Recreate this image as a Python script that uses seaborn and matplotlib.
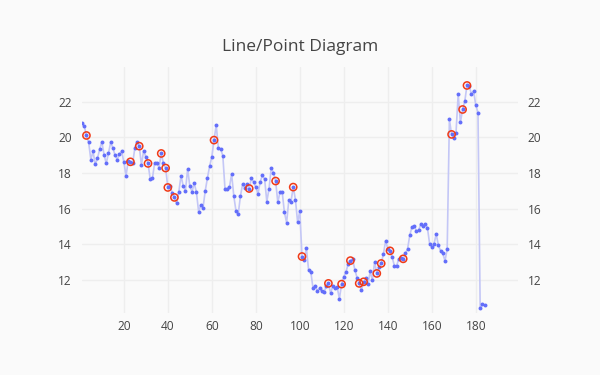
import matplotlib
matplotlib.use("Agg")
import matplotlib.pyplot as plt
import seaborn as sns
import pandas as pd

# values, one per x step starting at 1
values = [
    20.82, 20.64, 20.11, 19.72, 18.76, 19.21, 18.48, 18.82, 19.33, 19.76,
    19.03, 18.54, 19.10, 19.72, 19.42, 19.00, 18.76, 19.06, 19.21, 18.63,
    17.85, 18.68, 18.63, 18.54, 19.40, 19.74, 19.51, 18.45, 19.25, 18.91,
    18.54, 17.66, 17.70, 18.58, 18.58, 18.31, 19.10, 18.54, 18.28, 17.19,
    17.27, 16.89, 16.63, 16.29, 16.95, 17.85, 17.27, 17.00, 18.22, 17.27,
    16.95, 17.42, 16.93, 15.82, 16.20, 16.05, 16.99, 17.72, 18.39, 18.91,
    19.85, 20.69, 19.38, 19.36, 18.97, 17.08, 17.09, 17.21, 17.94, 16.70,
    15.86, 15.69, 16.70, 17.38, 17.17, 17.40, 17.13, 17.72, 17.49, 17.21,
    16.84, 17.51, 17.87, 17.66, 16.40, 17.11, 18.27, 18.03, 17.55, 16.35,
    16.93, 16.93, 15.79, 15.22, 16.47, 16.40, 17.21, 16.51, 15.24, 15.86,
    13.31, 13.12, 13.78, 12.55, 12.45, 11.53, 11.68, 11.37, 11.53, 11.35,
    11.29, 11.65, 11.80, 11.24, 11.67, 11.52, 11.57, 10.95, 11.76, 12.17,
    12.45, 12.90, 13.08, 13.16, 12.58, 12.13, 11.80, 11.42, 11.89, 12.08,
    11.76, 12.47, 11.99, 13.00, 12.36, 12.73, 12.92, 13.45, 14.18, 13.76,
    13.63, 13.26, 12.79, 12.79, 13.18, 13.20, 13.18, 13.48, 13.75, 14.51,
    14.98, 15.02, 14.74, 14.79, 15.11, 15.04, 15.15, 14.93, 14.04, 13.86,
    14.01, 14.57, 13.95, 13.63, 13.48, 13.07, 13.73, 21.01, 20.17, 19.98,
    20.24, 22.43, 20.84, 21.57, 22.04, 22.92, 22.88, 22.45, 22.60, 21.81,
    21.40, 10.41, 10.62, 10.56,
]
x_vals = list(range(1, len(values) + 1))

# points marked with a red ring
highlight_x = [3, 23, 27, 31, 37, 39, 40, 43, 61, 77, 89, 97, 101, 113,
               119, 123, 127, 129, 135, 137, 141, 147, 169, 174, 176]

x_ticks = [20, 40, 60, 80, 100, 120, 140, 160, 180]
y_ticks = [12, 14, 16, 18, 20, 22]

df = pd.DataFrame({"x": x_vals, "y": values})
hl = df[df["x"].isin(highlight_x)]

bg = "#fafafa"
sns.set_theme(style="whitegrid")
plt.rcParams['font.family'] = ['Open Sans', 'DejaVu Sans']

fig = plt.figure(figsize=(6, 3.75), dpi=100, facecolor=bg)
ax = fig.add_axes([0.136, 0.165, 0.727, 0.656])
ax.set_facecolor(bg)

sns.lineplot(data=df, x="x", y="y", ax=ax, color="#c4c7f6", linewidth=1.2, zorder=2)
sns.scatterplot(data=df, x="x", y="y", ax=ax, color="#636efa", s=8,
                linewidth=0, zorder=3)
sns.scatterplot(data=hl, x="x", y="y", ax=ax, facecolor="none",
                edgecolor="#f03a17", s=27, linewidth=1.1, zorder=4)

ax.set_xlim(0.8, 199.1)
ax.set_ylim(10.13, 23.95)
ax.set_xticks(x_ticks)
ax.set_yticks(y_ticks)
ax.set_xlabel("")
ax.set_ylabel("")
ax.grid(True, color="#eeeeee", linewidth=1)
for s in ax.spines.values():
    s.set_visible(False)
ax.tick_params(axis="both", length=0, labelsize=8.6, labelcolor="#444444")
ax.tick_params(axis="x", pad=5)
ax.tick_params(axis="y", pad=7, labelright=True)

fig.text(0.5, 1 - 47 / 375, "Line/Point Diagram", ha="center", va="center",
         fontsize=12.5, color="#444444")

fig.savefig("out.png", dpi=100, facecolor=bg)
